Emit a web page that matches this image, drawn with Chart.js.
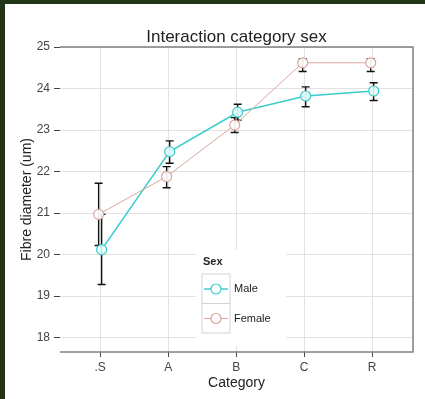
<!DOCTYPE html>
<html>
<head>
<meta charset="utf-8">
<script src="https://cdn.jsdelivr.net/npm/chart.js@4/dist/chart.umd.min.js"></script>
<style>
  html, body { margin: 0; padding: 0; background: #223516; }
  canvas { display: block; }
</style>
</head>
<body>
<canvas id="myChart" width="425" height="399"></canvas>
<script>
const categories = ['.S', 'A', 'B', 'C', 'R'];
const yTicks = [18, 19, 20, 21, 22, 23, 24, 25];

const maleMean = [20.12, 22.48, 23.43, 23.82, 23.94];
const maleLow = [19.28, 22.20, 23.24, 23.56, 23.71];
const maleHigh = [20.97, 22.74, 23.62, 24.04, 24.14];

const femaleMean = [20.97, 21.88, 23.12, 24.62, 24.62];
const femaleLow = [20.22, 21.61, 22.94, 24.41, 24.41];
const femaleHigh = [21.72, 22.12, 23.30, 24.72, 24.72];

const MALE = '#3ccccc';
const FEMALE = '#dca69e';
const FONT = "'Liberation Sans', Arial, sans-serif";
const dodge = 0.022;

function toPoints(values, shift) {
    return values.map((v, i) => ({ x: i + shift, y: v }));
}

const errorBars = {
    id: 'errorBars',
    beforeDatasetsDraw(chart) {
        const { ctx, scales: { x, y }, chartArea } = chart;
        // panel frame (top, right, bottom)
        ctx.save();
        ctx.strokeStyle = '#808080';
        ctx.lineWidth = 1.5;
        ctx.beginPath();
        ctx.moveTo(chartArea.left, chartArea.top);
        ctx.lineTo(chartArea.right, chartArea.top);
        ctx.lineTo(chartArea.right, chartArea.bottom);
        ctx.lineTo(chartArea.left, chartArea.bottom);
        ctx.stroke();

        // legend background hides the grid
        ctx.fillStyle = '#ffffff';
        ctx.fillRect(196, 250, 90, 96);

        const sets = [
            [femaleLow, femaleHigh, -dodge],
            [maleLow, maleHigh, dodge]
        ];
        ctx.strokeStyle = '#111';
        ctx.lineWidth = 1.4;
        sets.forEach(([lo, hi, shift]) => {
            lo.forEach((l, i) => {
                const px = x.getPixelForValue(i + shift);
                const y1 = y.getPixelForValue(l);
                const y2 = y.getPixelForValue(hi[i]);
                ctx.beginPath();
                ctx.moveTo(px, y1); ctx.lineTo(px, y2);
                ctx.moveTo(px - 4, y1); ctx.lineTo(px + 4, y1);
                ctx.moveTo(px - 4, y2); ctx.lineTo(px + 4, y2);
                ctx.stroke();
            });
        });
        ctx.restore();
    },
    afterDraw(chart) {
        const { ctx, chartArea } = chart;
        ctx.save();
        ctx.fillStyle = '#222';
        ctx.textAlign = 'center';
        ctx.textBaseline = 'middle';
        ctx.font = '17px ' + FONT;
        ctx.fillText('Interaction category sex', (chartArea.left + chartArea.right) / 2, 37);
        ctx.font = '14px ' + FONT;
        ctx.fillText('Category', (chartArea.left + chartArea.right) / 2, 383);
        ctx.save();
        ctx.translate(27, (chartArea.top + chartArea.bottom) / 2);
        ctx.rotate(-Math.PI / 2);
        ctx.fillText('Fibre diameter (um)', 0, 0);
        ctx.restore();

        // legend
        ctx.textAlign = 'left';
        ctx.font = 'bold 11px ' + FONT;
        ctx.fillText('Sex', 203, 262);
        ctx.font = '11px ' + FONT;
        const items = [['Male', MALE], ['Female', FEMALE]];
        items.forEach(([label, color], k) => {
            const top = 274 + k * 29.5;
            ctx.strokeStyle = '#d4d4d4';
            ctx.lineWidth = 1;
            ctx.strokeRect(202, top, 28, 29.5);
            const cy = top + 15;
            ctx.strokeStyle = color;
            ctx.lineWidth = k === 0 ? 1.5 : 1;
            ctx.beginPath();
            ctx.moveTo(204, cy); ctx.lineTo(228, cy);
            ctx.stroke();
            ctx.beginPath();
            ctx.arc(216, cy, 5, 0, Math.PI * 2);
            ctx.fillStyle = '#ffffff';
            ctx.fill();
            ctx.lineWidth = 1.2;
            ctx.stroke();
            ctx.fillStyle = '#222';
            ctx.fillText(label, 234, cy);
        });
        ctx.restore();
    }
};

const background = {
    id: 'background',
    beforeDraw(chart) {
        const { ctx, width, height } = chart;
        ctx.save();
        ctx.fillStyle = '#223516';
        ctx.fillRect(0, 0, width, height);
        ctx.fillStyle = '#ffffff';
        ctx.fillRect(5, 4, width - 5, height - 4);
        ctx.restore();
    }
};

const ctx = document.getElementById('myChart').getContext('2d');
const myChart = new Chart(ctx, {
    type: 'line',
    data: {
        datasets: [{
            label: 'Female',
            data: toPoints(femaleMean, -dodge),
            borderColor: FEMALE,
            borderWidth: 1,
            pointRadius: 5,
            pointBorderWidth: 1.2,
            pointBackgroundColor: 'rgba(255,255,255,0.9)',
            pointBorderColor: FEMALE
        }, {
            label: 'Male',
            data: toPoints(maleMean, dodge),
            borderColor: MALE,
            borderWidth: 1.6,
            pointRadius: 5,
            pointBorderWidth: 1.2,
            pointBackgroundColor: 'rgba(230,252,252,0.9)',
            pointBorderColor: MALE
        }]
    },
    options: {
        responsive: false,
        animation: false,
        devicePixelRatio: 1,
        layout: { padding: { left: 5, top: 47, right: 12, bottom: 0 } },
        plugins: {
            legend: { display: false },
            tooltip: { enabled: false }
        },
        scales: {
            x: {
                type: 'linear',
                min: -0.59,
                max: 4.6,
                afterFit(scale) { scale.height = 47; },
                afterBuildTicks(scale) { scale.ticks = categories.map((c, i) => ({ value: i })); },
                grid: { color: '#e2e2e2', tickColor: '#444', tickLength: 5 },
                border: { display: false },
                ticks: {
                    padding: 3,
                    color: '#444',
                    font: { family: FONT, size: 12 },
                    callback: (v) => categories[v]
                }
            },
            y: {
                min: 17.655,
                max: 25,
                afterFit(scale) { scale.width = 55; },
                afterBuildTicks(scale) { scale.ticks = yTicks.map(v => ({ value: v })); },
                grid: { color: '#e2e2e2', tickColor: '#444', tickLength: 6 },
                border: { display: false },
                ticks: {
                    padding: 4,
                    color: '#444',
                    font: { family: FONT, size: 12 }
                }
            }
        }
    },
    plugins: [background, errorBars]
});
</script>
</body>
</html>
